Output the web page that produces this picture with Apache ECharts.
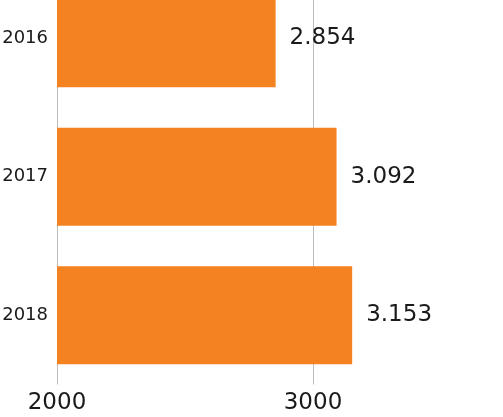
<!DOCTYPE html>
<html>
<head>
<meta charset="utf-8">
<script src="https://cdn.jsdelivr.net/npm/echarts@6/dist/echarts.min.js"></script>
<style>
    html, body { margin: 0; padding: 0; background: #fff; }
    #chart { width: 503px; height: 417px; }
</style>
</head>
<body>
<div id="chart"></div>
<script>
// chart data
var years = ['2016', '2017', '2018'];
var values = [2854, 3092, 3153];
var xTicks = [2000, 3000, 4000];

var chart = echarts.init(document.getElementById('chart'));
var font = 'DejaVu Sans';

chart.setOption({
    animation: false,
    grid: {
        left: 57,
        width: 512,
        top: -31,
        bottom: 32.5,
        containLabel: false,
        outerBoundsMode: 'none'
    },
    xAxis: {
        type: 'value',
        min: xTicks[0],
        max: xTicks[xTicks.length - 1],
        interval: 1000,
        axisLine: { show: false },
        axisTick: { show: false },
        splitLine: { lineStyle: { color: '#bcbcbc', width: 1 } },
        axisLabel: {
            color: '#1a1a1a',
            fontFamily: font,
            fontSize: 23,
            margin: 7,
            formatter: function (v) { return String(v); }
        }
    },
    yAxis: {
        type: 'category',
        data: years,
        inverse: true,
        axisLine: { show: false },
        axisTick: { show: false },
        axisLabel: {
            color: '#1a1a1a',
            fontFamily: font,
            fontSize: 18,
            margin: 9
        }
    },
    series: [{
        type: 'bar',
        data: values,
        barWidth: 98,
        itemStyle: { color: '#f58220' },
        label: {
            show: true,
            position: 'right',
            distance: 14,
            color: '#1a1a1a',
            fontFamily: font,
            fontSize: 23,
            formatter: function (p) { return (p.value / 1000).toFixed(3); }
        }
    }]
});
</script>
</body>
</html>
